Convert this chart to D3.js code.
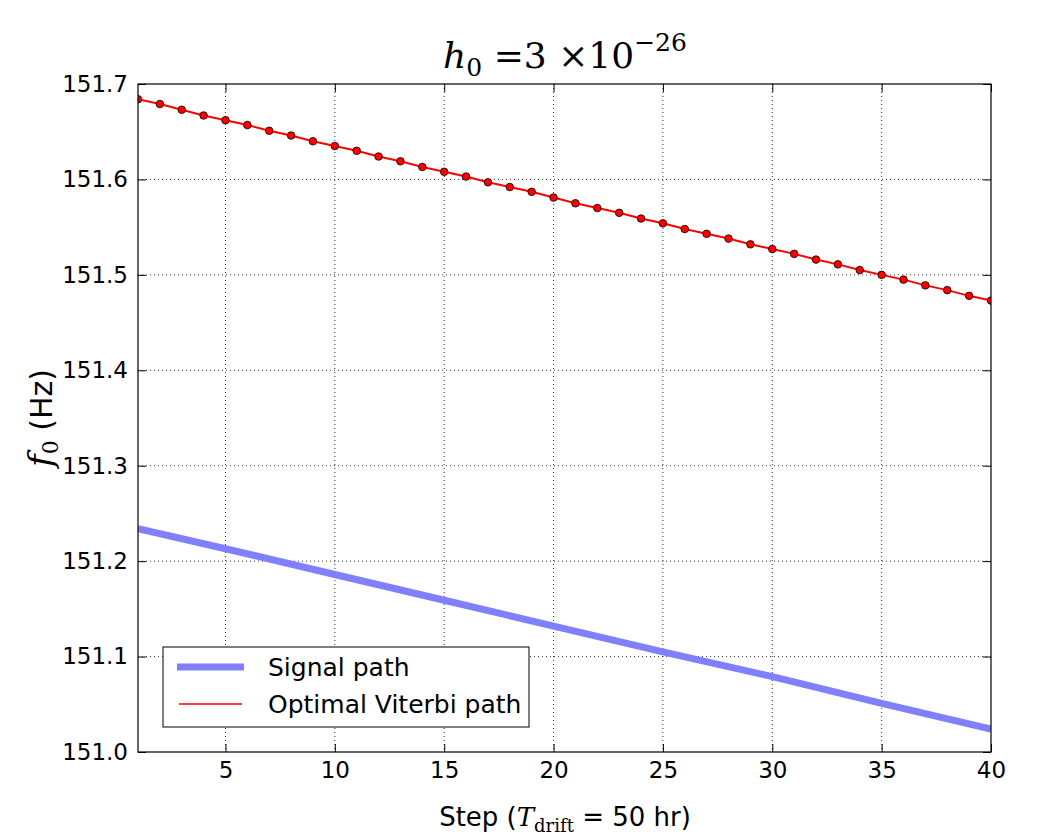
<!DOCTYPE html>
<html>
<head>
<meta charset="utf-8">
<script src="https://cdn.jsdelivr.net/npm/d3@7"></script>
<style>
  body { margin: 0; background: #fff; }
  text { font-family: "DejaVu Sans", sans-serif; }
</style>
</head>
<body>
<svg id="chart" width="1050" height="836"></svg>
<script>
// Signal path, read at a few steps
const signalSteps = [1, 5, 10, 15, 20, 25, 30, 35, 40];
const signalFreq = [151.234, 151.213, 151.186, 151.159, 151.132, 151.105, 151.079, 151.051, 151.024];

// Optimal Viterbi path, one value per step
const viterbiSteps = d3.range(1, 41);
const viterbiFreq = [
  151.684, 151.679, 151.673, 151.667, 151.662, 151.657, 151.651, 151.646, 151.640, 151.635,
  151.630, 151.624, 151.619, 151.613, 151.608, 151.603, 151.597, 151.592, 151.587, 151.581,
  151.575, 151.570, 151.565, 151.559, 151.554, 151.548, 151.543, 151.538, 151.532, 151.527,
  151.522, 151.516, 151.511, 151.505, 151.500, 151.495, 151.489, 151.484, 151.478, 151.473
];

const xTicks = [5, 10, 15, 20, 25, 30, 35, 40];
const yTicks = [151.0, 151.1, 151.2, 151.3, 151.4, 151.5, 151.6, 151.7];
const legendLabels = ["Signal path", "Optimal Viterbi path"];

const svg = d3.select('#chart');
const margin = { left: 138, right: 1050 - 991, top: 84, bottom: 836 - 752 };
const width = 1050 - margin.left - margin.right;
const height = 836 - margin.top - margin.bottom;

const x = d3.scaleLinear().domain([1, 40]).range([0, width]);
const y = d3.scaleLinear().domain([151.0, 151.7]).range([height, 0]);

const g = svg.append('g').attr('transform', `translate(${margin.left},${margin.top})`);

// clip so nothing leaks outside the axes
svg.append('defs').append('clipPath').attr('id', 'clip')
  .append('rect').attr('width', width).attr('height', height);

// grid
g.append('g').selectAll('line.vx')
  .data(xTicks.filter(d => d < 40))
  .join('line')
  .attr('x1', d => x(d)).attr('x2', d => x(d))
  .attr('y1', 0).attr('y2', height)
  .attr('stroke', '#000').attr('stroke-width', 0.8).attr('stroke-dasharray', '1,3');
g.append('g').selectAll('line.hy')
  .data(yTicks.filter(d => d > 151.0 && d < 151.7))
  .join('line')
  .attr('x1', 0).attr('x2', width)
  .attr('y1', d => y(d)).attr('y2', d => y(d))
  .attr('stroke', '#000').attr('stroke-width', 0.8).attr('stroke-dasharray', '1,3');

// data
const plot = g.append('g').attr('clip-path', 'url(#clip)');
const signalData = signalSteps.map((s, i) => [s, signalFreq[i]]);
const viterbiData = viterbiSteps.map((s, i) => [s, viterbiFreq[i]]);
const line = d3.line().x(d => x(d[0])).y(d => y(d[1]));

plot.append('path').datum(signalData)
  .attr('d', line).attr('fill', 'none')
  .attr('stroke', '#8080ff').attr('stroke-width', 7);

plot.append('path').datum(viterbiData)
  .attr('d', line).attr('fill', 'none')
  .attr('stroke', '#ff0000').attr('stroke-width', 2);

plot.selectAll('circle').data(viterbiData).join('circle')
  .attr('cx', d => x(d[0])).attr('cy', d => y(d[1])).attr('r', 3.8)
  .attr('fill', '#ff0000').attr('stroke', '#000').attr('stroke-width', 0.8);

// axes: matplotlib classic ticks pointing inward on all four sides
const tickLen = 8;
const xAxisB = d3.axisBottom(x).tickValues(xTicks).tickSize(-tickLen).tickPadding(10);
const xAxisT = d3.axisTop(x).tickValues(xTicks).tickSize(-tickLen).tickFormat('');
const yAxisL = d3.axisLeft(y).tickValues(yTicks).tickSize(-tickLen).tickPadding(10).tickFormat(d3.format('.1f'));
const yAxisR = d3.axisRight(y).tickValues(yTicks).tickSize(-tickLen).tickFormat('');

function styleAxis(sel) {
  sel.select('.domain').remove();
  sel.selectAll('.tick line').attr('stroke', '#000').attr('stroke-width', 1);
  sel.selectAll('.tick text').attr('fill', '#000').style('font-size', '23px')
    .style('font-family', '"DejaVu Sans", sans-serif');
}
g.append('g').attr('transform', `translate(0,${height})`).call(xAxisB).call(styleAxis);
g.append('g').call(xAxisT).call(styleAxis);
g.append('g').call(yAxisL).call(styleAxis);
g.append('g').attr('transform', `translate(${width},0)`).call(yAxisR).call(styleAxis);

// frame
g.append('rect').attr('width', width).attr('height', height)
  .attr('fill', 'none').attr('stroke', '#000').attr('stroke-width', 1.2);

// legend
const leg = g.append('g').attr('transform', `translate(${163 - margin.left},${647 - margin.top})`);
leg.append('rect').attr('width', 366).attr('height', 80)
  .attr('fill', '#fff').attr('stroke', '#000').attr('stroke-width', 1);
leg.append('line').attr('x1', 14).attr('x2', 81).attr('y1', 20).attr('y2', 20)
  .attr('stroke', '#8080ff').attr('stroke-width', 7);
leg.append('line').attr('x1', 16).attr('x2', 79).attr('y1', 57).attr('y2', 57)
  .attr('stroke', '#ff0000').attr('stroke-width', 1.5);
leg.selectAll('text.lab').data(legendLabels).join('text')
  .attr('x', 105).attr('y', (d, i) => 29 + i * 37)
  .style('font-size', '25px').attr('fill', '#000')
  .text(d => d);

// title: h_0 = 3 x 10^-26
const title = svg.append('text').attr('x', 565).attr('y', 68)
  .attr('text-anchor', 'middle')
  .style('font-family', '"DejaVu Serif", serif').style('font-size', '36px');
title.append('tspan').style('font-style', 'italic').text('h');
title.append('tspan').attr('dy', 8).style('font-size', '25px').text('0');
title.append('tspan').attr('dy', -8).text(' =3 ×10');
title.append('tspan').attr('dy', -17).style('font-size', '25px').text('−26');

// y label
const ylab = svg.append('text')
  .attr('transform', 'translate(52,418) rotate(-90)')
  .attr('text-anchor', 'middle').style('font-size', '30px');
ylab.append('tspan').style('font-family', '"DejaVu Serif", serif').style('font-style', 'italic').style('font-size', '34px').text('f');
ylab.append('tspan').attr('dy', 6).style('font-family', '"DejaVu Serif", serif').style('font-size', '22px').text('0');
ylab.append('tspan').attr('dy', -6).text('  (Hz)');

// x label
const xlab = svg.append('text').attr('x', 565).attr('y', 826)
  .attr('text-anchor', 'middle').style('font-size', '26px');
xlab.append('tspan').text('Step (');
xlab.append('tspan').style('font-family', '"DejaVu Serif", serif').style('font-style', 'italic').text('T');
xlab.append('tspan').attr('dy', 6).style('font-family', '"DejaVu Serif", serif').style('font-size', '18px').text('drift');
xlab.append('tspan').attr('dy', -6).text(' = 50 hr)');
</script>
</body>
</html>
